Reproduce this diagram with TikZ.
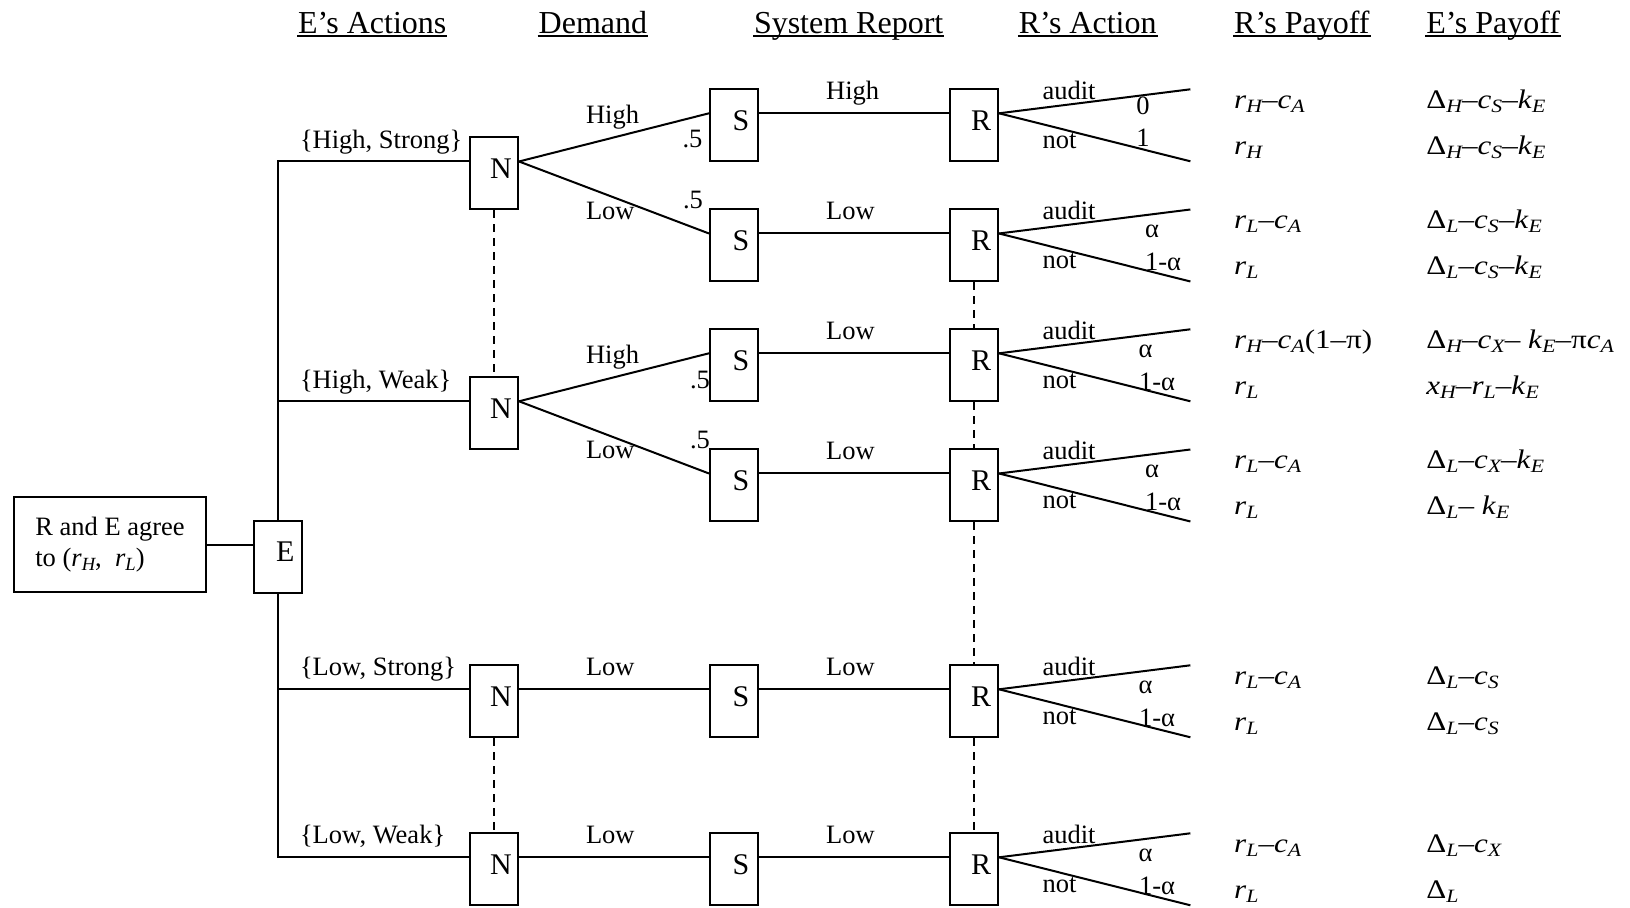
\documentclass[tikz,border=0pt]{standalone}
\usepackage{fontspec}
\usepackage{graphicx}
\setmainfont{Liberation Serif}
\newcommand\sbsize{9.4pt}
\newcommand\sbx[1]{\raisebox{-0.14em}{\fontsize{\sbsize}{\sbsize}\selectfont\itshape #1}}
\newcommand\pv[2]{\textit{#1}\sbx{#2}}
\newcommand\bl[1]{\raisebox{2.5pt}[\height][\depth]{\hspace*{7pt}#1}}
\newcommand\payv[1]{\scalebox{1.16}[1]{#1}}
\begin{document}
\begin{tikzpicture}[x=0.5pt,y=-0.5pt,line width=1pt,
  gbox/.style={draw,fill=white,minimum width=24pt,minimum height=36pt,inner sep=0pt,font=\fontsize{15}{15}\selectfont},
  hdr/.style={inner sep=0pt,anchor=base west,font=\fontsize{16}{16}\selectfont},
  lbl/.style={inner sep=0pt,anchor=base west,font=\fontsize{13.25}{13.25}\selectfont},
  prb/.style={inner sep=0pt,anchor=base,font=\fontsize{13.25}{13.25}\selectfont},
  pay/.style={inner sep=0pt,anchor=base west,font=\fontsize{13.4}{13.4}\selectfont},
  infoset/.style={dash pattern=on 4pt off 3pt,line width=0.8pt},
  uline/.style={line width=0.8pt}]
\useasboundingbox (0,0) rectangle (1630,908);

% headers
\node[hdr] (h1) at (297,33.3) {E’s Actions};
\node[hdr] (h2) at (537.7,33.3) {Demand};
\node[hdr] (h3) at (753,33.3) {System Report};
\node[hdr] (h4) at (1017.8,33.3) {R’s Action};
\node[hdr] (h5) at (1233.2,33.3) {R’s Payoff};
\node[hdr] (h6) at (1425.4,33.3) {E’s Payoff};
\foreach \i in {1,...,6}
  \draw[uline] ([yshift=-1.5pt]h\i.base west) -- ([yshift=-1.5pt]h\i.base east);

% decision boxes
\node[gbox,minimum width=96pt,minimum height=47.5pt,align=left,
  font=\fontsize{13.25}{15.35}\selectfont\renewcommand\sbsize{9.3pt}] (root) at (110,544.7)
  {R and E agree\\to (\pv{r}{H},\ \ \pv{r}{L})};
\node[gbox] (E) at (278.3,556.7) {\bl{E}};
\node[gbox] (N1) at (494,173.5) {\bl{N}};
\node[gbox] (N2) at (494,413.3) {\bl{N}};
\node[gbox] (N3) at (494,701.3) {\bl{N}};
\node[gbox] (N4) at (494,869.3) {\bl{N}};
\foreach \i/\y in {1/125.3,2/245.5,3/365.3,4/485.5,5/701.3,6/869.3}{
  \node[gbox] (S\i) at (734,\y) {\bl{S}};
  \node[gbox] (R\i) at (974,\y) {\bl{R}};
  \coordinate (a\i) at (1190.4,\y-36);
  \coordinate (b\i) at (1190.4,\y+36);
}

% connectors
\draw (root.east) -- ([yshift=6pt]E.west);
\draw (E.north) |- ([yshift=6pt]N1.west);
\draw (E.north) |- ([yshift=6pt]N2.west);
\draw (E.south) |- ([yshift=6pt]N3.west);
\draw (E.south) |- ([yshift=6pt]N4.west);
\draw ([yshift=6pt]N1.east) -- ([yshift=6pt]S1.west);
\draw ([yshift=6pt]N1.east) -- ([yshift=6pt]S2.west);
\draw ([yshift=6pt]N2.east) -- ([yshift=6pt]S3.west);
\draw ([yshift=6pt]N2.east) -- ([yshift=6pt]S4.west);
\draw ([yshift=6pt]N3.east) -- ([yshift=6pt]S5.west);
\draw ([yshift=6pt]N4.east) -- ([yshift=6pt]S6.west);
\foreach \i in {1,...,6}{
  \draw ([yshift=6pt]S\i.east) -- ([yshift=6pt]R\i.west);
  \draw ([yshift=6pt]R\i.east) -- (a\i);
  \draw ([yshift=6pt]R\i.east) -- (b\i);
}
\draw[infoset] (N1.south) -- (N2.north);
\draw[infoset] (N3.south) -- (N4.north);
\foreach \i/\j in {2/3,3/4,4/5,5/6}
  \draw[infoset] (R\i.south) -- (R\j.north);

% E's actions
\node[lbl] (l1) at (299,148.3) {\{High, Strong\}};
\node[lbl] (l2) at (299,388.3) {\{High, Weak\}};
\node[lbl] (l3) at (299,676) {\{Low, Strong\}};
\node[lbl] (l4) at (299,844) {\{Low, Weak\}};

% demand
\node[lbl] (d1) at (585,123.3) {High};
\node[lbl] (d2) at (585,220) {Low};
\node[lbl] (d3) at (585,363.3) {High};
\node[lbl] (d4) at (585,459) {Low};
\node[lbl] (d5) at (585,676) {Low};
\node[lbl] (d6) at (585,843.3) {Low};
\node[lbl] (q1) at (681.5,147.7) {.5};
\node[lbl] (q2) at (682,208.3) {.5};
\node[lbl] (q3) at (689,388.3) {.5};
\node[lbl] (q4) at (689,448.3) {.5};

% system report and R's action
\foreach \i/\p/\t in {1/113.3/High,2/233.5/Low,3/353.3/Low,4/473.5/Low,5/689.3/Low,6/857.3/Low}{
  \node[lbl] (sr\i) at (825.2,\p-13.5) {\t};
  \node[lbl] (au\i) at (1041.5,\p-14) {audit};
  \node[lbl] (no\i) at (1041.5,\p+35) {not};
}
\node[prb] (pa1) at (1143,114.3) {0};
\node[prb] (pb1) at (1143,146.8) {1};
\foreach \i/\p/\xa/\xb in {2/233.5/1152/1163,3/353.3/1145.5/1157,4/473.5/1152/1163,5/689.3/1145.5/1157,6/857.3/1145.5/1157}{
  \node[prb] (pa\i) at (\xa,\p+4) {α};
  \node[prb] (pb\i) at (\xb,\p+37) {1-α};
}

% payoffs
\node[pay] (ru1) at (1233.2,108.3) {\payv{\pv{r}{H}–\pv{c}{A}}};
\node[pay] (rl1) at (1233.2,154.8) {\payv{\pv{r}{H}}};
\node[pay] (eu1) at (1425.4,108.3) {\payv{Δ\sbx{H}–\pv{c}{S}–\pv{k}{E}}};
\node[pay] (el1) at (1425.4,154.8) {\payv{Δ\sbx{H}–\pv{c}{S}–\pv{k}{E}}};

\node[pay] (ru2) at (1233.2,228.5) {\payv{\pv{r}{L}–\pv{c}{A}}};
\node[pay] (rl2) at (1233.2,275) {\payv{\pv{r}{L}}};
\node[pay] (eu2) at (1425.4,228.5) {\payv{Δ\sbx{L}–\pv{c}{S}–\pv{k}{E}}};
\node[pay] (el2) at (1425.4,275) {\payv{Δ\sbx{L}–\pv{c}{S}–\pv{k}{E}}};

\node[pay] (ru3) at (1233.2,348.3) {\payv{\pv{r}{H}–\pv{c}{A}(1–π)}};
\node[pay] (rl3) at (1233.2,394.8) {\payv{\pv{r}{L}}};
\node[pay] (eu3) at (1425.4,348.3) {\payv{Δ\sbx{H}–\pv{c}{X}– \pv{k}{E}–π\pv{c}{A}}};
\node[pay] (el3) at (1425.4,394.8) {\payv{\pv{x}{H}–\pv{r}{L}–\pv{k}{E}}};

\node[pay] (ru4) at (1233.2,468.5) {\payv{\pv{r}{L}–\pv{c}{A}}};
\node[pay] (rl4) at (1233.2,515) {\payv{\pv{r}{L}}};
\node[pay] (eu4) at (1425.4,468.5) {\payv{Δ\sbx{L}–\pv{c}{X}–\pv{k}{E}}};
\node[pay] (el4) at (1425.4,515) {\payv{Δ\sbx{L}– \pv{k}{E}}};

\node[pay] (ru5) at (1233.2,684.3) {\payv{\pv{r}{L}–\pv{c}{A}}};
\node[pay] (rl5) at (1233.2,730.8) {\payv{\pv{r}{L}}};
\node[pay] (eu5) at (1425.4,684.3) {\payv{Δ\sbx{L}–\pv{c}{S}}};
\node[pay] (el5) at (1425.4,730.8) {\payv{Δ\sbx{L}–\pv{c}{S}}};

\node[pay] (ru6) at (1233.2,852.3) {\payv{\pv{r}{L}–\pv{c}{A}}};
\node[pay] (rl6) at (1233.2,898.8) {\payv{\pv{r}{L}}};
\node[pay] (eu6) at (1425.4,852.3) {\payv{Δ\sbx{L}–\pv{c}{X}}};
\node[pay] (el6) at (1425.4,898.8) {\payv{Δ\sbx{L}}};
\end{tikzpicture}
\end{document}
